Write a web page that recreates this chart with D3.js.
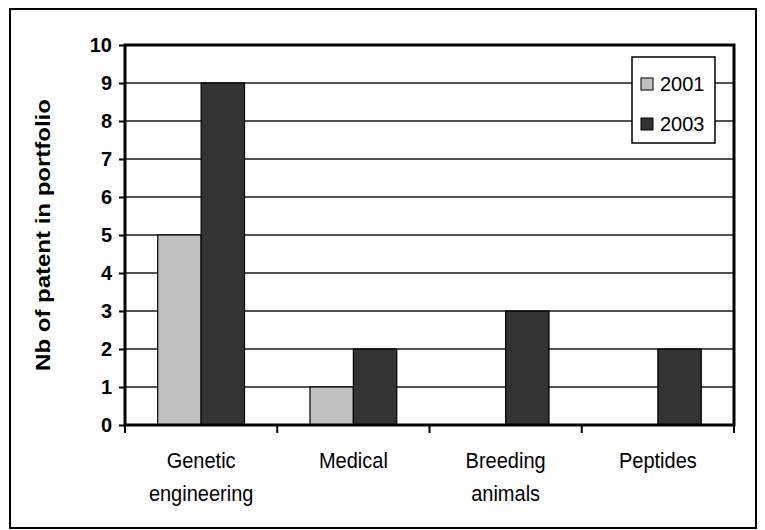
<!DOCTYPE html>
<html>
<head>
<meta charset="utf-8">
<script src="https://cdn.jsdelivr.net/npm/d3@7"></script>
<style>
  html, body { margin: 0; padding: 0; background: #fff; }
  svg text { font-family: "Liberation Sans", Arial, sans-serif; }
</style>
</head>
<body>
<svg id="chart" width="765" height="530"></svg>
<script>
// Patent portfolio by field, two survey years
const categories = ["Genetic\nengineering", "Medical", "Breeding\nanimals", "Peptides"];
const seriesNames = ["2001", "2003"];
const values2001 = [5, 1, 0, 0];
const values2003 = [9, 2, 3, 2];
const seriesColors = ["#c0c0c0", "#333333"];
const yTickValues = [0, 1, 2, 3, 4, 5, 6, 7, 8, 9, 10];
const yTitle = "Nb of patent in portfolio";

const svg = d3.select("#chart");

// outer chart frame
svg.append("rect")
  .attr("x", 10).attr("y", 9)
  .attr("width", 746).attr("height", 519)
  .attr("fill", "#fff").attr("stroke", "#000").attr("stroke-width", 2);

const plot = { left: 125, top: 45, right: 734, bottom: 425 };

const x = d3.scaleBand()
  .domain(categories)
  .range([plot.left, plot.right])
  .paddingInner(0).paddingOuter(0);

const groupPad = 0.43; // share of each band left empty around the pair of bars
const xInner = d3.scaleBand()
  .domain(seriesNames)
  .range([x.bandwidth() * groupPad / 2, x.bandwidth() * (1 - groupPad / 2)])
  .padding(0);

const y = d3.scaleLinear().domain([0, 10]).range([plot.bottom, plot.top]);

// horizontal gridlines
svg.append("g")
  .selectAll("line")
  .data(yTickValues.filter(v => v > 0 && v < 10))
  .join("line")
  .attr("x1", plot.left).attr("x2", plot.right)
  .attr("y1", d => y(d)).attr("y2", d => y(d))
  .attr("stroke", "#1a1a1a").attr("stroke-width", 1.5);

// bars
const rows = categories.map((c, i) => ({
  category: c,
  values: [values2001[i], values2003[i]]
}));

const groups = svg.append("g")
  .selectAll("g")
  .data(rows)
  .join("g")
  .attr("transform", d => `translate(${x(d.category)},0)`);

groups.selectAll("rect")
  .data(d => d.values.map((v, k) => ({ series: seriesNames[k], value: v, k })).filter(e => e.value > 0))
  .join("rect")
  .attr("x", d => xInner(d.series))
  .attr("width", xInner.bandwidth())
  .attr("y", d => y(d.value))
  .attr("height", d => y(0) - y(d.value))
  .attr("fill", d => seriesColors[d.k])
  .attr("stroke", "#000").attr("stroke-width", 1.2);

// plot area border
svg.append("rect")
  .attr("x", plot.left).attr("y", plot.top)
  .attr("width", plot.right - plot.left).attr("height", plot.bottom - plot.top)
  .attr("fill", "none").attr("stroke", "#000").attr("stroke-width", 3);

// y axis
const yAxis = d3.axisLeft(y)
  .tickValues(yTickValues)
  .tickFormat(d3.format("d"))
  .tickSize(6)
  .tickPadding(7);

const gy = svg.append("g")
  .attr("transform", `translate(${plot.left},0)`)
  .call(yAxis);
gy.select(".domain").remove();
gy.selectAll(".tick line").attr("stroke", "#000").attr("stroke-width", 2);
gy.selectAll(".tick text")
  .attr("font-size", 20).attr("font-weight", "bold").attr("fill", "#000")
  .style("font-family", "'Liberation Sans', Arial, sans-serif");

// x axis: tick marks at category boundaries
const boundaries = categories.map(c => x(c)).concat([plot.right]);
svg.append("g")
  .selectAll("line")
  .data(boundaries)
  .join("line")
  .attr("x1", d => d).attr("x2", d => d)
  .attr("y1", plot.bottom).attr("y2", plot.bottom + 8)
  .attr("stroke", "#000").attr("stroke-width", 2);

// category labels, slightly tall type
const xLabels = svg.append("g")
  .selectAll("text")
  .data(categories)
  .join("text")
  .attr("transform", d => `translate(${x(d) + x.bandwidth() / 2},468) scale(1,1.1)`)
  .attr("text-anchor", "middle")
  .attr("font-size", 20)
  .attr("fill", "#000");
xLabels.each(function(d) {
  const t = d3.select(this);
  d.split("\n").forEach((line, i) => {
    t.append("tspan")
      .attr("x", 0)
      .attr("dy", i === 0 ? 0 : 30)
      .text(line);
  });
});

// y title
svg.append("text")
  .attr("transform", `translate(50,${(plot.top + plot.bottom) / 2}) rotate(-90) scale(1.2,1)`)
  .attr("text-anchor", "middle")
  .attr("font-size", 20)
  .attr("font-weight", "bold")
  .attr("fill", "#000")
  .text(yTitle);

// legend
const legend = svg.append("g").attr("transform", "translate(632,57)");
legend.append("rect")
  .attr("width", 83).attr("height", 86)
  .attr("fill", "#fff").attr("stroke", "#000").attr("stroke-width", 1.5);
const items = legend.selectAll("g.item")
  .data(seriesNames)
  .join("g")
  .attr("class", "item")
  .attr("transform", (d, i) => `translate(9,${27 + i * 40})`);
items.append("rect")
  .attr("x", 0).attr("y", -6)
  .attr("width", 12).attr("height", 12)
  .attr("fill", (d, i) => seriesColors[i])
  .attr("stroke", "#000").attr("stroke-width", 1);
items.append("text")
  .attr("x", 19).attr("y", 7)
  .attr("font-size", 20)
  .attr("fill", "#000")
  .text(d => d);
</script>
</body>
</html>
